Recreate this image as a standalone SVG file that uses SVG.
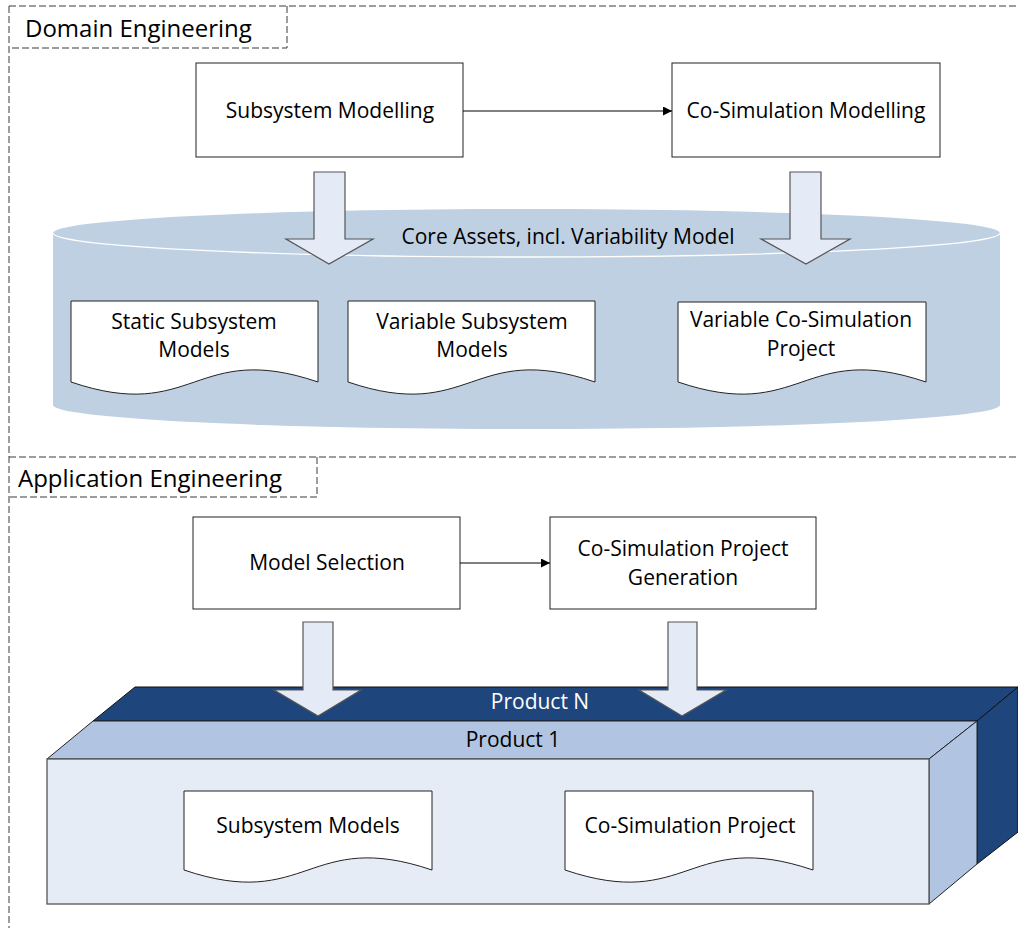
<svg xmlns="http://www.w3.org/2000/svg" width="1018" height="928" viewBox="0 0 1018 928">
  <defs>
    <marker id="arrowHead" viewBox="0 0 10 10" refX="10" refY="5" markerWidth="9" markerHeight="9" markerUnits="userSpaceOnUse" orient="auto">
      <path d="M0,0 L10,5 L0,10 Z" fill="#000"/>
    </marker>
    <style>
      .lbl { font-family: "Open Sans", "Liberation Sans", sans-serif; font-size: 21px; fill: #000; }
      .head { font-family: "Open Sans", "Liberation Sans", sans-serif; font-size: 24px; fill: #000; }
      .mid { text-anchor: middle; }
      .frame { fill: none; stroke: #3a3a3a; stroke-width: 1; stroke-dasharray: 7 3; }
      .box { fill: #fff; stroke: #222; stroke-width: 1; }
      .doc { fill: #fff; stroke: #222; stroke-width: 1; }
      .block { fill: #e4ebf6; stroke: #555; stroke-width: 1.2; stroke-linejoin: miter; }
      .flow { fill: none; stroke: #000; stroke-width: 1; }
    </style>
  </defs>

  <rect width="1018" height="928" fill="#fff"/>

  <!-- swimlane frames -->
  <g id="frames">
    <path class="frame" d="M9,6 H1018 M9,6 V928 M287,6 V48 H9"/>
    <path class="frame" d="M9,457 H1018 M317,457 V497 H9"/>
    <text class="head" x="25" y="37">Domain Engineering</text>
    <text class="head" x="18" y="487">Application Engineering</text>
  </g>

  <!-- core asset repository (cylinder) -->
  <g id="core-assets">
    <path d="M53,233 A473.5,24 0 0 1 1000,233 V405 A473.5,24 0 0 1 53,405 Z" fill="#bfd0e2"/>
    <path d="M53,233 A473.5,24 0 0 0 1000,233" fill="none" stroke="#fff" stroke-width="1.3"/>
    <text class="lbl mid" x="568" y="244">Core Assets, incl. Variability Model</text>
  </g>

  <g id="static-subsystem-models">
    <path class="doc" d="M71,301 H318 V382 C194.5,340 194.5,424 71,382 Z"/>
    <text class="lbl mid" x="194" y="329">Static Subsystem</text>
    <text class="lbl mid" x="194" y="357">Models</text>
  </g>
  <g id="variable-subsystem-models">
    <path class="doc" d="M348,301 H595 V382 C471.5,340 471.5,424 348,382 Z"/>
    <text class="lbl mid" x="472" y="329">Variable Subsystem</text>
    <text class="lbl mid" x="472" y="357">Models</text>
  </g>
  <g id="variable-cosim-project">
    <path class="doc" d="M678,302 H926 V382 C802,340 802,424 678,382 Z"/>
    <text class="lbl mid" x="801" y="327">Variable Co-Simulation</text>
    <text class="lbl mid" x="801" y="356">Project</text>
  </g>

  <!-- domain engineering processes -->
  <g id="subsystem-modelling">
    <rect class="box" x="196" y="63" width="267" height="94"/>
    <text class="lbl mid" x="330" y="118">Subsystem Modelling</text>
  </g>
  <g id="cosim-modelling">
    <rect class="box" x="672" y="63" width="268" height="94"/>
    <text class="lbl mid" x="806" y="118">Co-Simulation Modelling</text>
  </g>

  <!-- product family (stacked 3D boxes) -->
  <g id="product-n">
    <polygon points="135,687 1018,687 977,721 93,721" fill="#1f467c" stroke="#111" stroke-width="1"/>
    <polygon points="977,721 1018,687 1018,832 977,864" fill="#1f467c" stroke="#111" stroke-width="1"/>
    <text class="lbl mid" x="540" y="709" fill="#fff" style="fill:#fff">Product N</text>
  </g>
  <g id="product-1">
    <polygon points="93,721 977,721 929,759 47,759" fill="#b1c5e3" stroke="#222" stroke-width="1"/>
    <polygon points="929,759 977,721 977,864 929,904" fill="#b1c5e3" stroke="#222" stroke-width="1"/>
    <rect x="47" y="759" width="882" height="145" fill="#e6ecf6" stroke="#555" stroke-width="1.3"/>
    <text class="lbl mid" x="513" y="747">Product 1</text>
  </g>
  <g id="subsystem-models">
    <path class="doc" d="M184,791 H432 V870 C308,828 308,912 184,870 Z"/>
    <text class="lbl mid" x="308" y="833">Subsystem Models</text>
  </g>
  <g id="cosim-project">
    <path class="doc" d="M565,791 H813 V870 C689,828 689,912 565,870 Z"/>
    <text class="lbl mid" x="690" y="833">Co-Simulation Project</text>
  </g>

  <!-- application engineering processes -->
  <g id="model-selection">
    <rect class="box" x="193" y="517" width="267" height="92"/>
    <text class="lbl mid" x="327" y="570">Model Selection</text>
  </g>
  <g id="project-generation">
    <rect class="box" x="550" y="517" width="266" height="92"/>
    <text class="lbl mid" x="683" y="556">Co-Simulation Project</text>
    <text class="lbl mid" x="683" y="585">Generation</text>
  </g>

  <!-- connectors -->
  <g id="connectors">
    <line class="flow" x1="463" y1="111" x2="672" y2="111" marker-end="url(#arrowHead)"/>
    <line class="flow" x1="460" y1="563" x2="550" y2="563" marker-end="url(#arrowHead)"/>
    <polygon class="block" points="314,172 345,172 345,239 373,239 329,264 286,239 314,239"/>
    <polygon class="block" points="790,172 821,172 821,239 850,239 806,264 761,239 790,239"/>
    <polygon class="block" points="303,622 333,622 333,690 361,690 318,716 274,690 303,690"/>
    <polygon class="block" points="668,622 697,622 697,690 726,690 682,716 639,690 668,690"/>
  </g>
</svg>
